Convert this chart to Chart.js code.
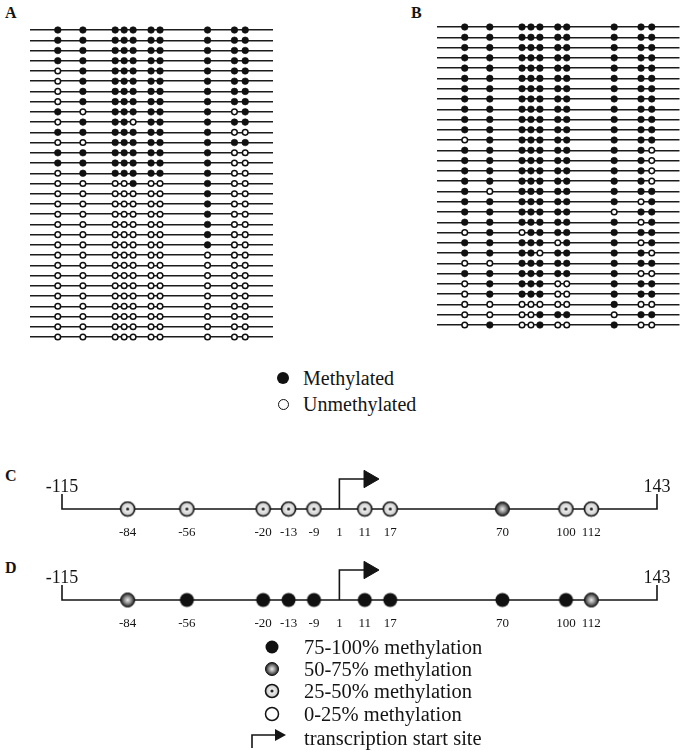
<!DOCTYPE html>
<html>
<head>
<meta charset="utf-8">
<script src="https://cdn.jsdelivr.net/npm/chart.js@4.4.1/dist/chart.umd.min.js"></script>
<style>
  html, body { margin: 0; padding: 0; background: #fff; }
  body { width: 685px; height: 751px; position: relative; overflow: hidden;
         font-family: "Liberation Serif", "DejaVu Serif", serif; color: #141414; }
  canvas { position: absolute; }
  .panel { position: absolute; font-weight: bold; font-size: 16px; line-height: 18px; }
  .row { position: absolute; display: flex; align-items: center; height: 24px; white-space: nowrap; }
  .row canvas, .row svg { position: static; }
  .dot { display: inline-block; box-sizing: border-box; border-radius: 50%; }
  .leg1 { font-size: 20px; line-height: 24px; }
  .leg2 { font-size: 20.5px; line-height: 24px; }
</style>
</head>
<body>

<div class="panel" style="left:5px; top:4px;">A</div>
<div class="panel" style="left:411px; top:4px;">B</div>
<div class="panel" style="left:5px; top:467px;">C</div>
<div class="panel" style="left:5px; top:559px;">D</div>

<canvas id="chartA" width="300" height="350" style="left:0; top:0;"></canvas>
<canvas id="chartB" width="278" height="350" style="left:407px; top:0;"></canvas>
<canvas id="chartC" width="685" height="100" style="left:0; top:455px;"></canvas>
<canvas id="chartD" width="685" height="100" style="left:0; top:545px;"></canvas>

<div class="row leg1" style="left:277px; top:366px;">
  <span class="dot" style="width:12px; height:12px; background:#111;"></span>
  <span style="margin-left:14px;">Methylated</span>
</div>
<div class="row leg1" style="left:277px; top:392px;">
  <span class="dot" style="width:11px; height:11px; border:1.5px solid #111; margin-left:0.5px;"></span>
  <span style="margin-left:14.5px;">Unmethylated</span>
</div>

<div id="legend2"></div>

<script>
Chart.defaults.font.family = '"Liberation Serif", "DejaVu Serif", serif';
Chart.defaults.color = '#141414';

// CpG sites (bp relative to the transcription start site)
const sites = [-84, -56, -20, -13, -9, 11, 17, 70, 100, 112];
const tss = 1;
const region = [-115, 143];

// one string per clone, one character per CpG site: 1 = methylated, 0 = unmethylated
const clonesA = [
  '1111111111', '1111111111', '1111111111', '1111111111',
  '0111111111', '0111111111', '0111111111', '0111111111',
  '1011111101', '0111011111', '1111111100', '0011111111',
  '1111111100', '1111111100', '0111111100', '0000100100',
  '0000000100', '0000000100', '0000000100', '0000000100',
  '0000000100', '0000000100', '0000000000', '0000000000',
  '0000000000', '0000000000', '0000000000', '0000000000',
  '0000000000', '0000000000', '0000000000'
];
const clonesB = [
  '1111111111', '1111111111', '1111111111', '1111111111',
  '1111111111', '1111111111', '1111111111', '1111111111',
  '1111111111', '1111111111', '1111111111', '0111111111',
  '1111111110', '1111111110', '1111111110', '1111111110',
  '1011111111', '1111111101', '1111111011', '1111111101',
  '0101111111', '1111101101', '1111011110', '0011111111',
  '1111111100', '0111100111', '0111100111', '0000000100',
  '0000111011', '0100100100'
];

// summary methylation class per site
const levelsC = ['25-50', '25-50', '25-50', '25-50', '25-50', '25-50', '25-50', '50-75', '25-50', '25-50'];
const levelsD = ['50-75', '75-100', '75-100', '75-100', '75-100', '75-100', '75-100', '75-100', '75-100', '50-75'];

const legendLevels = ['75-100', '50-75', '25-50', '0-25'];

const ink = '#141414';

// Not-to-scale map axis: piecewise linear between landmarks, short gaps widened to minGap
class SchematicScale extends Chart.LinearScale {
  static id = 'schematic';
  static defaults = Chart.LinearScale.defaults;
  getPixelForValue(value) {
    const marks = this.options.marks;
    const minGap = this.options.minGap;
    const acc = [0];
    for (let i = 1; i < marks.length; i++) {
      acc.push(acc[i - 1] + Math.max(marks[i] - marks[i - 1], minGap));
    }
    let i = 1;
    while (i < marks.length - 1 && value > marks[i]) i++;
    const t = (value - marks[i - 1]) / (marks[i] - marks[i - 1]);
    const w = acc[i - 1] + t * (acc[i] - acc[i - 1]);
    return this.getPixelForDecimal(w / acc[acc.length - 1]);
  }
}
Chart.register(SchematicScale);

const landmarks = [region[0], ...sites, tss, region[1]].sort((a, b) => a - b);

function makeSymbol(level, r) {
  const c = document.createElement('canvas');
  const s = Math.ceil(2 * r + 3);
  c.width = c.height = s;
  const g = c.getContext('2d');
  const m = s / 2;
  g.beginPath();
  g.arc(m, m, r, 0, Math.PI * 2);
  if (level === '75-100') {
    g.fillStyle = '#111';
    g.fill();
  } else if (level === '50-75') {
    const grad = g.createRadialGradient(m, m, 0, m, m, r);
    grad.addColorStop(0, '#ececec');
    grad.addColorStop(0.5, '#8e8e8e');
    grad.addColorStop(1, '#1a1a1a');
    g.fillStyle = grad;
    g.fill();
    g.lineWidth = 1;
    g.strokeStyle = '#111';
    g.stroke();
  } else if (level === '25-50') {
    const grad = g.createRadialGradient(m, m, 0, m, m, r);
    grad.addColorStop(0, '#ffffff');
    grad.addColorStop(1, '#c4c4c4');
    g.fillStyle = grad;
    g.fill();
    g.lineWidth = 1.6;
    g.strokeStyle = ink;
    g.stroke();
    g.beginPath();
    g.arc(m, m, 1.6, 0, Math.PI * 2);
    g.fillStyle = '#222';
    g.fill();
  } else {
    g.fillStyle = '#fff';
    g.fill();
    g.lineWidth = 1.5;
    g.strokeStyle = ink;
    g.stroke();
  }
  return c;
}

// ============================================================
// Panels A and B: one line per clone, one circle per CpG
// ============================================================
function cloneChart(id, clones, padding) {
  const filled = [], empty = [];
  clones.forEach((row, i) => {
    row.split('').forEach((c, j) => {
      (c === '1' ? filled : empty).push({ x: sites[j], y: i + 1 });
    });
  });

  new Chart(document.getElementById(id), {
    type: 'scatter',
    data: {
      datasets: [{
        data: filled,
        pointRadius: 3.3,
        pointBackgroundColor: '#111',
        pointBorderColor: '#111',
        pointBorderWidth: 0.6,
        clip: false
      }, {
        data: empty,
        pointRadius: 2.8,
        pointBackgroundColor: '#fff',
        pointBorderColor: '#111',
        pointBorderWidth: 1.5,
        clip: false
      }]
    },
    options: {
      responsive: false,
      animation: false,
      events: [],
      layout: { padding: padding },
      plugins: { legend: { display: false }, tooltip: { enabled: false } },
      scales: {
        x: {
          type: 'schematic', display: false,
          min: region[0], max: region[1],
          marks: landmarks, minGap: 10
        },
        y: {
          type: 'linear', reverse: true,
          min: 0.5, max: clones.length + 0.5,
          border: { display: false },
          ticks: { display: false },
          grid: { color: '#1c1c1c', lineWidth: 1.4, drawTicks: false },
          afterBuildTicks: scale => {
            scale.ticks = clones.map((_, i) => ({ value: i + 1 }));
          }
        }
      }
    }
  });
}

// ============================================================
// Panels C and D: summary map of the region
// ============================================================
const mapLabels = {
  id: 'mapLabels',
  afterDatasetsDraw(chart) {
    const { ctx, scales: { x, y } } = chart;
    ctx.save();
    ctx.fillStyle = ink;
    ctx.textAlign = 'center';
    ctx.textBaseline = 'middle';
    ctx.font = '13px "Liberation Serif"';
    [...sites, tss].forEach(p => ctx.fillText(String(p), x.getPixelForValue(p), y.getPixelForValue(0) + 24));
    ctx.font = '18px "Liberation Serif"';
    region.forEach(p => ctx.fillText(String(p), x.getPixelForValue(p), y.getPixelForValue(1) - 7));
    ctx.restore();
  }
};

function mapChart(id, levels, padding) {
  const symbols = levels.map(l => makeSymbol(l, 7));
  const arrowLen = 11;

  new Chart(document.getElementById(id), {
    type: 'scatter',
    data: {
      datasets: [{
        // CpG sites
        data: sites.map(s => ({ x: s, y: 0 })),
        pointStyle: ctx => symbols[ctx.dataIndex],
        pointRadius: 7,
        clip: false
      }, {
        // transcription start arrow
        data: [{ x: tss, y: 0 }, { x: tss, y: 2 }, { x: tss + arrowLen, y: 2 }],
        showLine: true,
        borderColor: ink,
        borderWidth: 1.6,
        pointStyle: 'triangle',
        rotation: 90,
        pointRadius: ctx => (ctx.dataIndex === 2 ? 10 : 0),
        pointBackgroundColor: ink,
        pointBorderColor: ink,
        pointBorderWidth: 1,
        clip: false
      }, {
        // analysed region with end ticks
        data: [{ x: region[0], y: 1 }, { x: region[0], y: 0 }, { x: region[1], y: 0 }, { x: region[1], y: 1 }],
        showLine: true,
        borderColor: ink,
        borderWidth: 1.6,
        pointRadius: 0,
        clip: false
      }]
    },
    options: {
      responsive: false,
      animation: false,
      events: [],
      layout: { padding: padding },
      plugins: { legend: { display: false }, tooltip: { enabled: false } },
      scales: {
        x: {
          type: 'schematic', display: false,
          min: region[0], max: region[1],
          marks: landmarks, minGap: 12
        },
        y: { type: 'linear', display: false, min: -1.6, max: 2.4 }
      }
    },
    plugins: [mapLabels]
  });
}

function buildLegend() {
  const host = document.getElementById('legend2');
  const tops = [635, 657, 679, 702];
  legendLevels.forEach((l, i) => {
    const row = document.createElement('div');
    row.className = 'row leg2';
    row.style.left = '264px';
    row.style.top = tops[i] + 'px';
    const sym = makeSymbol(l, 6.5);
    row.appendChild(sym);
    const txt = document.createElement('span');
    txt.style.marginLeft = (304 - 264 - sym.width) + 'px';
    txt.textContent = l + '% methylation';
    row.appendChild(txt);
    host.appendChild(row);
  });
  const arrowRow = document.createElement('div');
  arrowRow.className = 'row leg2';
  arrowRow.style.left = '246px';
  arrowRow.style.top = '726px';
  arrowRow.innerHTML =
    '<svg width="44" height="24" viewBox="0 0 44 24">' +
    '<path d="M6 22 V9 H30" fill="none" stroke="' + ink + '" stroke-width="1.6"/>' +
    '<polygon points="29,3 40,9 29,15" fill="' + ink + '"/></svg>' +
    '<span style="margin-left:14px;">transcription start site</span>';
  host.appendChild(arrowRow);
}

document.addEventListener('DOMContentLoaded', function() {
  cloneChart('chartA', clonesA, { left: 30, right: 27, top: 24.9, bottom: 7.9 });
  cloneChart('chartB', clonesB, { left: 30, right: 5, top: 21.9, bottom: 19.9 });
  mapChart('chartC', levelsC, { left: 62, right: 28, top: 18, bottom: 22 });
  mapChart('chartD', levelsD, { left: 62, right: 28, top: 19, bottom: 21 });
  buildLegend();
});
</script>
</body>
</html>
